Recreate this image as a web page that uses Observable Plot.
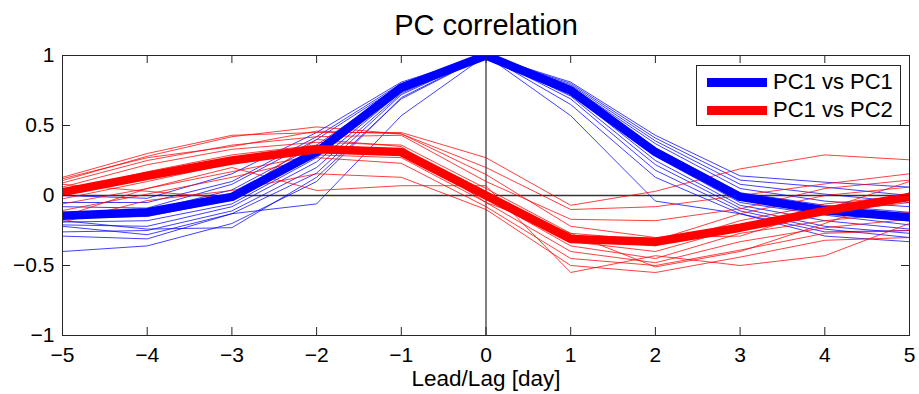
<!DOCTYPE html>
<html>
<head>
<meta charset="utf-8">
<script src="https://cdn.jsdelivr.net/npm/d3@7"></script>
<script src="https://cdn.jsdelivr.net/npm/@observablehq/plot@0.6"></script>
<style>
  html, body { margin: 0; padding: 0; background: #fff; }
  #wrap { position: relative; width: 919px; height: 394px; font-family: "Liberation Sans", Arial, sans-serif; }
  #legend { position: absolute; left: 696px; top: 65px; width: 205px; height: 61px; border: 1px solid #262626; background: #fff; box-sizing: border-box; }
  .lg-row { position: absolute; left: 0; height: 28px; width: 100%; }
  .lg-line { position: absolute; left: 10px; width: 60px; height: 9px; top: 50%; margin-top: -4.5px; }
  .lg-text { position: absolute; left: 76px; top: 0; line-height: 28px; font-size: 22px; color: #000; white-space: nowrap; }
</style>
</head>
<body>
<div id="wrap"></div>
<script>
// ---- data ----
const title = "PC correlation";
const xLabel = "Lead/Lag [day]";
const lags = [-5, -4, -3, -2, -1, 0, 1, 2, 3, 4, 5];
const xTicks = [-5, -4, -3, -2, -1, 0, 1, 2, 3, 4, 5];
const yTicks = [-1, -0.5, 0, 0.5, 1];
const seriesNames = ["PC1 vs PC1", "PC1 vs PC2"];

const pc1pc1Mean = [-0.145, -0.12, -0.01, 0.31, 0.77, 1, 0.75, 0.31, -0.01, -0.105, -0.155];
const pc1pc2Mean = [0.024, 0.14, 0.25, 0.33, 0.31, 0.0, -0.31, -0.33, -0.23, -0.11, -0.01];

const pc1pc1Members = [
  [0.00, -0.02, 0.155, 0.45, 0.81, 1, 0.81, 0.43, 0.14, 0.095, 0.06],
  [-0.05, -0.05, 0.10, 0.42, 0.80, 1, 0.80, 0.41, 0.11, 0.06, 0.00],
  [-0.08, -0.09, 0.08, 0.40, 0.79, 1, 0.79, 0.39, 0.08, 0.01, -0.05],
  [-0.12, -0.11, 0.04, 0.36, 0.78, 1, 0.78, 0.37, 0.05, -0.04, -0.08],
  [-0.14, -0.13, 0.01, 0.33, 0.77, 1, 0.77, 0.34, 0.02, -0.07, -0.12],
  [-0.16, -0.15, -0.03, 0.30, 0.76, 1, 0.76, 0.32, 0.00, -0.09, -0.15],
  [-0.19, -0.18, -0.06, 0.27, 0.75, 1, 0.75, 0.30, -0.02, -0.11, -0.18],
  [-0.21, -0.22, -0.08, 0.24, 0.74, 1, 0.74, 0.28, -0.05, -0.14, -0.21],
  [-0.26, -0.25, -0.11, 0.20, 0.73, 1, 0.73, 0.25, -0.07, -0.18, -0.24],
  [-0.29, -0.31, -0.13, 0.16, 0.72, 1, 0.71, 0.22, -0.09, -0.22, -0.27],
  [-0.40, -0.36, -0.20, 0.10, 0.70, 1, 0.69, 0.18, -0.11, -0.24, -0.30],
  [-0.18, -0.24, -0.23, 0.13, 0.69, 1, 0.65, 0.13, -0.13, -0.29, -0.33],
  [-0.22, -0.28, -0.13, -0.06, 0.57, 1, 0.57, -0.04, -0.13, -0.26, -0.25]
];

const pc1pc2Members = [
  [0.13, 0.30, 0.43, 0.45, 0.45, 0.27, -0.07, 0.03, 0.19, 0.29, 0.255],
  [0.107, 0.28, 0.42, 0.49, 0.44, 0.20, -0.10, -0.08, 0.00, 0.083, 0.155],
  [0.09, 0.25, 0.36, 0.42, 0.43, 0.10, -0.17, -0.18, -0.095, 0.05, 0.11],
  [0.06, 0.22, 0.33, 0.38, 0.36, 0.05, -0.27, -0.32, -0.13, 0.00, 0.06],
  [0.03, 0.17, 0.29, 0.36, 0.33, 0.03, -0.31, -0.36, -0.18, -0.06, 0.00],
  [0.00, 0.12, 0.26, 0.33, 0.31, 0.00, -0.33, -0.40, -0.23, -0.12, -0.05],
  [-0.024, 0.10, 0.23, 0.31, 0.30, -0.02, -0.36, -0.45, -0.27, -0.18, -0.12],
  [-0.06, 0.05, 0.17, 0.29, 0.27, -0.05, -0.40, -0.48, -0.33, -0.23, -0.17],
  [-0.107, 0.01, 0.13, 0.27, 0.23, -0.08, -0.45, -0.50, -0.39, -0.27, -0.25],
  [-0.19, -0.036, 0.036, 0.155, 0.13, -0.10, -0.50, -0.55, -0.44, -0.32, -0.30],
  [-0.15, 0.05, 0.20, 0.036, 0.07, 0.07, -0.55, -0.43, -0.50, -0.43, -0.20],
  [0.08, 0.03, -0.02, 0.40, 0.35, -0.05, -0.27, -0.51, -0.40, -0.20, 0.02],
  [0.12, 0.27, 0.35, 0.46, 0.44, 0.15, -0.22, -0.30, -0.29, -0.10, 0.10]
];

const colors = ["#0000ff", "#ff0000"];

// ---- build tables ----
function members(arr, series) {
  const out = [];
  arr.forEach((vals, i) => vals.forEach((v, j) => out.push({series, id: series + i, lag: lags[j], r: v})));
  return out;
}
const thinBlue = members(pc1pc1Members, seriesNames[0]);
const thinRed = members(pc1pc2Members, seriesNames[1]);
const meanBlue = pc1pc1Mean.map((v, j) => ({lag: lags[j], r: v}));
const meanRed = pc1pc2Mean.map((v, j) => ({lag: lags[j], r: v}));

const font = '"Liberation Sans", Arial, sans-serif';
const fmt = d => String(d).replace("-", "\u2212");
const [xMin, xMax] = d3.extent(xTicks);
const [yMin, yMax] = d3.extent(yTicks);
const tickLen = 8;
const tickColor = "#262626";
const thick = {strokeWidth: 8.5, strokeLinecap: "butt", strokeLinejoin: "miter", clip: "frame"};
const thin = {strokeWidth: 1, strokeOpacity: 0.75, strokeLinecap: "butt", clip: "frame"};

const chart = Plot.plot({
  width: 919,
  height: 394,
  marginLeft: 62,
  marginRight: 10,
  marginTop: 55,
  marginBottom: 59,
  style: {fontFamily: font, fontSize: "21px", color: "#000", background: "#fff", overflow: "visible"},
  x: {domain: [xMin, xMax]},
  y: {domain: [yMin, yMax]},
  marks: [
    Plot.ruleY([0], {stroke: "#333", strokeWidth: 1.3}),
    Plot.ruleX([0], {stroke: "#000", strokeWidth: 1}),
    Plot.line(thinBlue, {x: "lag", y: "r", z: "id", stroke: colors[0], ...thin}),
    Plot.line(thinRed, {x: "lag", y: "r", z: "id", stroke: colors[1], ...thin}),
    Plot.line(meanBlue, {x: "lag", y: "r", stroke: colors[0], ...thick}),
    Plot.line(meanRed, {x: "lag", y: "r", stroke: colors[1], ...thick}),
    Plot.frame({stroke: tickColor, strokeWidth: 1}),
    // inward ticks on all four sides
    Plot.ruleX(xTicks, {x: d => d, y1: yMin, y2: yMin, insetTop: -tickLen, stroke: tickColor}),
    Plot.ruleX(xTicks, {x: d => d, y1: yMax, y2: yMax, insetBottom: -tickLen, stroke: tickColor}),
    Plot.ruleY(yTicks, {y: d => d, x1: xMin, x2: xMin, insetRight: -tickLen, stroke: tickColor}),
    Plot.ruleY(yTicks, {y: d => d, x1: xMax, x2: xMax, insetLeft: -tickLen, stroke: tickColor}),
    // labels
    Plot.axisX(xTicks, {anchor: "bottom", tickSize: 0, tickPadding: 12, label: null, tickFormat: fmt, fontSize: 21, fill: "#000"}),
    Plot.axisY(yTicks, {anchor: "left", tickSize: 0, tickPadding: 8, label: null, tickFormat: fmt, fontSize: 21, fill: "#000"}),
    Plot.text([title], {frameAnchor: "top", lineAnchor: "middle", text: d => d, dy: -29.3, fontSize: 29, fill: "#000"}),
    Plot.text([xLabel], {frameAnchor: "bottom", lineAnchor: "middle", text: d => d, dy: 43.7, fontSize: 22.5, fill: "#000"})
  ]
});

const wrap = document.getElementById("wrap");
wrap.appendChild(chart);

// legend
const legend = document.createElement("div");
legend.id = "legend";
seriesNames.forEach((name, i) => {
  const row = document.createElement("div");
  row.className = "lg-row";
  row.style.top = (i === 0 ? 2 : 30) + "px";
  const ln = document.createElement("div");
  ln.className = "lg-line";
  ln.style.background = colors[i];
  const tx = document.createElement("div");
  tx.className = "lg-text";
  tx.textContent = name;
  row.appendChild(ln);
  row.appendChild(tx);
  legend.appendChild(row);
});
wrap.appendChild(legend);
</script>
</body>
</html>
